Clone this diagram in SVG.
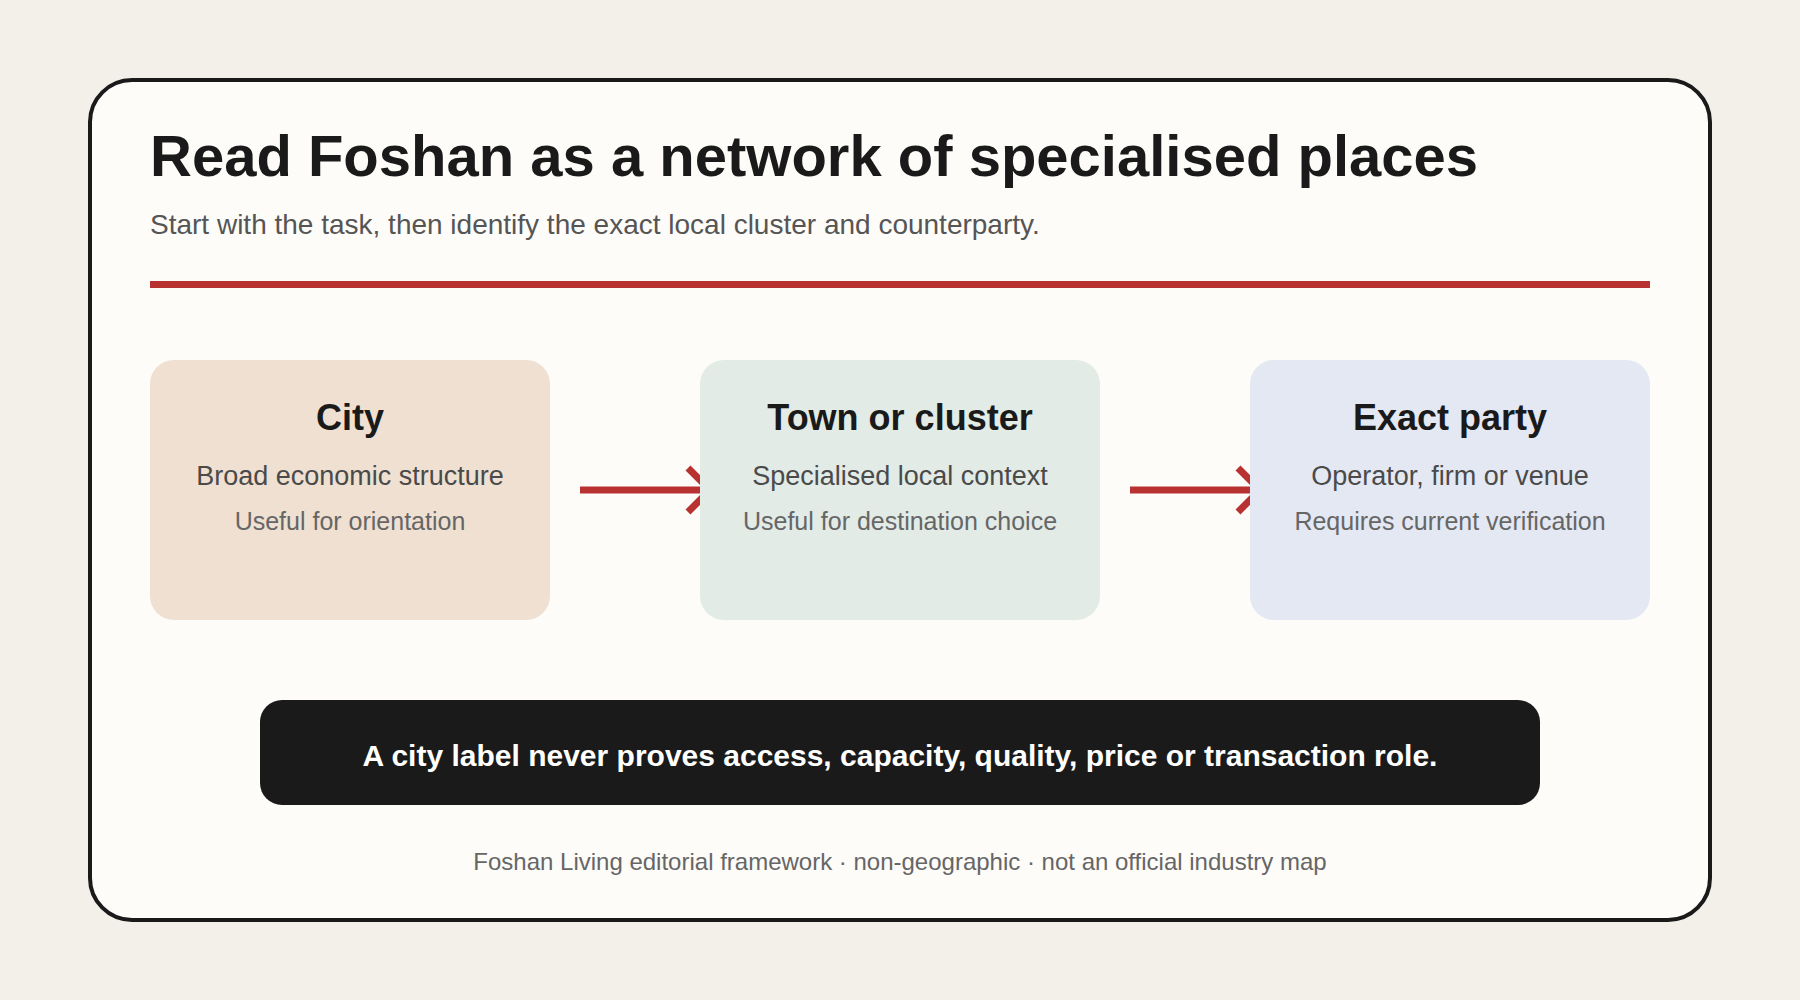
<svg xmlns="http://www.w3.org/2000/svg" width="1800" height="1000" viewBox="0 0 1800 1000">
<style>
.t{font-family:"Liberation Sans",Arial,sans-serif}
.head{font-size:36px;font-weight:bold;fill:#1a1a1a;text-anchor:middle}
.l2{font-size:27px;fill:#4a4a4a;text-anchor:middle}
.l3{font-size:25px;fill:#666;text-anchor:middle}
.conn{stroke:#b83232;stroke-width:7;fill:none}
</style>
<defs>
<marker id="chev" markerUnits="userSpaceOnUse" viewBox="-30 -30 40 60" refX="0" refY="0" markerWidth="40" markerHeight="60" orient="auto" overflow="visible">
<path d="M-22,-22 L0,0 L-22,22" fill="none" stroke="#b83232" stroke-width="7"/>
</marker>
</defs>
<rect width="1800" height="1000" fill="#f3f0e9"/>
<rect x="90" y="80" width="1620" height="840" rx="42" fill="#fdfcf8" stroke="#1a1a1a" stroke-width="4"/>
<text class="t" x="150" y="176" font-size="58" font-weight="bold" fill="#1a1a1a">Read Foshan as a network of specialised places</text>
<text class="t" x="150" y="234" font-size="28" fill="#555">Start with the task, then identify the exact local cluster and counterparty.</text>
<rect x="150" y="281" width="1500" height="7" fill="#b83232"/>
<g id="connectors">
<line class="conn" x1="580" y1="490" x2="710" y2="490" marker-end="url(#chev)"/>
<line class="conn" x1="1130" y1="490" x2="1260" y2="490" marker-end="url(#chev)"/>
</g>
<g id="node-city">
<rect x="150" y="360" width="400" height="260" rx="24" fill="#efe0d1"/>
<text class="t head" x="350" y="430">City</text>
<text class="t l2" x="350" y="485">Broad economic structure</text>
<text class="t l3" x="350" y="530">Useful for orientation</text>
</g>
<g id="node-town">
<rect x="700" y="360" width="400" height="260" rx="24" fill="#e2ebe6"/>
<text class="t head" x="900" y="430">Town or cluster</text>
<text class="t l2" x="900" y="485">Specialised local context</text>
<text class="t l3" x="900" y="530">Useful for destination choice</text>
</g>
<g id="node-party">
<rect x="1250" y="360" width="400" height="260" rx="24" fill="#e4e8f2"/>
<text class="t head" x="1450" y="430">Exact party</text>
<text class="t l2" x="1450" y="485">Operator, firm or venue</text>
<text class="t l3" x="1450" y="530">Requires current verification</text>
</g>
<g id="note">
<rect x="260" y="700" width="1280" height="105" rx="22" fill="#1a1a1a"/>
<text class="t" x="900" y="766" font-size="30" font-weight="bold" fill="#fff" text-anchor="middle">A city label never proves access, capacity, quality, price or transaction role.</text>
</g>
<text class="t" x="900" y="870" font-size="24" fill="#666" text-anchor="middle">Foshan Living editorial framework · non-geographic · not an official industry map</text>
</svg>
